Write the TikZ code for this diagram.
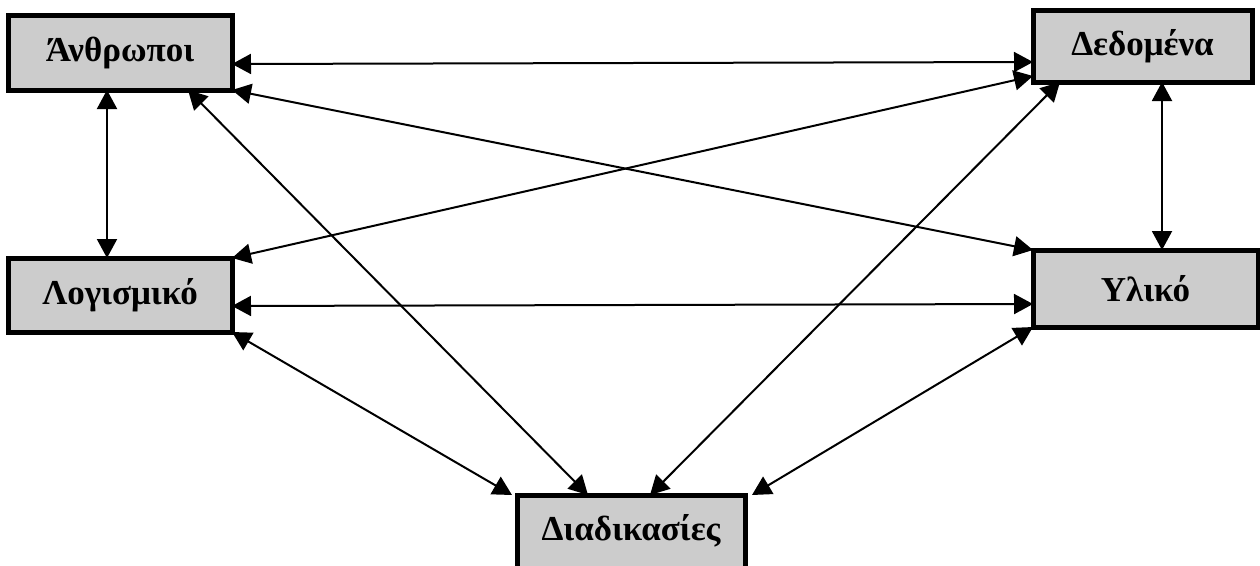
\documentclass[tikz,border=0pt]{standalone}
\usepackage{fontspec}
\setmainfont{Liberation Serif}
\usetikzlibrary{arrows.meta}
\begin{document}
\begin{tikzpicture}[x=1pt, y=-1pt, line join=miter,
    part/.style={draw, line width=5pt, fill=black!20, inner sep=0pt, outer sep=0pt,
      font=\bfseries\fontsize{35}{40}\selectfont},
    link/.style={line width=2pt, {Triangle[length=19pt,width=20pt]}-{Triangle[length=19pt,width=20pt]}}]
  \useasboundingbox (0,0) rectangle (1260,565);
  % the five parts
  \node[part, minimum width=224pt, minimum height=75pt] (people) at (120,52.5) {Άνθρωποι};
  \node[part, minimum width=219pt, minimum height=72pt] (data) at (1142.5,46) {Δεδομένα};
  \node[part, minimum width=224pt, minimum height=74pt] (soft) at (120,295) {Λογισμικό};
  \node[part, minimum width=225pt, minimum height=77pt] (hard) at (1145.5,288.5) {Υλικό};
  \node[part, minimum width=228pt, minimum height=82pt, text depth=18pt] (proc) at (631,536) {Διαδικασίες};
  % connections
  \draw[link] (people.east |- 0,64) -- (data.west |- 0,62);
  \draw[link] (people.south east) -- (hard.north west);
  \draw[link] (people.south -| 107,0) -- (soft.north -| 107,0);
  \draw[link] (people.south -| 188,0) -- (proc.north -| 588,0);
  \draw[link] (soft.north east) -- (data.west |- 0,76);
  \draw[link] (data.south -| 1060,0) -- (proc.north -| 650,0);
  \draw[link] (data.south -| 1162,0) -- (hard.north -| 1162,0);
  \draw[link] (soft.east |- 0,306) -- (hard.west |- 0,304);
  \draw[link] (soft.south east) -- (proc.north -| 512,0);
  \draw[link] (hard.south west) -- (proc.north -| 752,0);
\end{tikzpicture}
\end{document}
